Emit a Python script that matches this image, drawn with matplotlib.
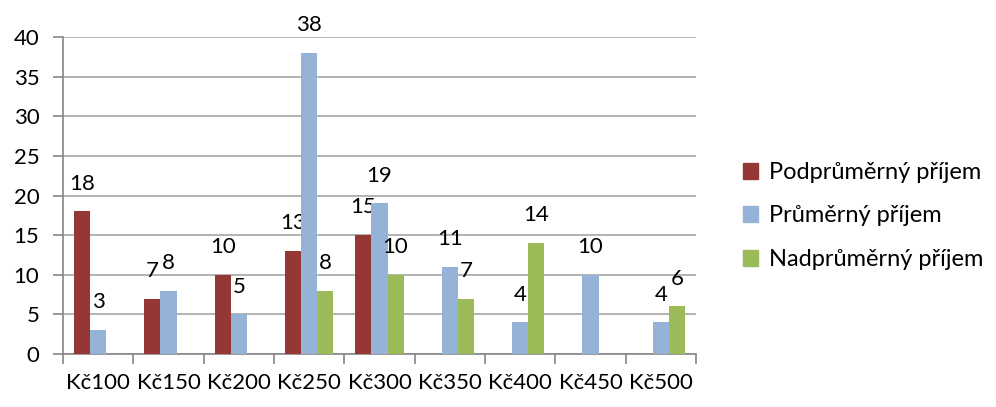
import numpy as np
import matplotlib.pyplot as plt
from matplotlib.patches import Patch

plt.rcParams["font.family"] = ["Lato", "DejaVu Sans"]

categories = ["Kč100", "Kč150", "Kč200", "Kč250", "Kč300", "Kč350", "Kč400", "Kč450", "Kč500"]
podprumerny = [18, 7, 10, 13, 15, None, None, None, None]
prumerny = [3, 8, 5, 38, 19, 11, 4, 10, 4]
nadprumerny = [None, None, None, 8, 10, 7, 14, None, 6]

series = [
    ("Podprůměrný příjem", podprumerny, "#953735"),
    ("Průměrný příjem", prumerny, "#95B3D7"),
    ("Nadprůměrný příjem", nadprumerny, "#9BBB59"),
]

fig = plt.figure(figsize=(9.96, 4.07), dpi=100)
ax = fig.add_axes([63 / 996, 1 - 354 / 407, (696 - 63) / 996, (354 - 37) / 407])

x = np.arange(len(categories))
w = 0.228
for i, (name, vals, col) in enumerate(series):
    for xi, v in zip(x, vals):
        if v is None:
            continue
        pos = xi + (i - 1) * w
        ax.bar(pos, v, width=w, color=col, zorder=3)
        ax.annotate(str(v), (pos, v), xytext=(0, 20), textcoords="offset points",
                    ha="center", va="center", fontsize=16, color="black")

ax.set_xlim(-0.5, len(categories) - 0.5)
ax.set_ylim(0, 40)
ax.set_yticks(range(0, 41, 5))
ax.yaxis.grid(True, color="#A6A6A6", linewidth=1.2, zorder=0)
ax.set_axisbelow(True)

ax.set_xticks(np.arange(len(categories) + 1) - 0.5)
ax.set_xticklabels([])
ax.set_xticks(x, minor=True)
ax.set_xticklabels(categories, minor=True)
ax.tick_params(axis="x", which="major", length=7, color="#868686", width=1.2)
ax.tick_params(axis="x", which="minor", length=0, pad=14, labelsize=16)
ax.tick_params(axis="y", length=7, color="#868686", width=1.2, labelsize=16, pad=10)

for side in ["top", "right"]:
    ax.spines[side].set_visible(False)
for side in ["left", "bottom"]:
    ax.spines[side].set_color("#868686")
    ax.spines[side].set_linewidth(1.2)

handles = [Patch(color=c, label=n) for n, _, c in series]
fig.legend(handles=handles, loc="center left", bbox_to_anchor=(731 / 996, 1 - 216 / 407),
           frameon=False, fontsize=17, handlelength=0.65, handleheight=0.65,
           labelspacing=0.95, handletextpad=0.45, borderpad=0)

fig.savefig("out.png", dpi=100)
